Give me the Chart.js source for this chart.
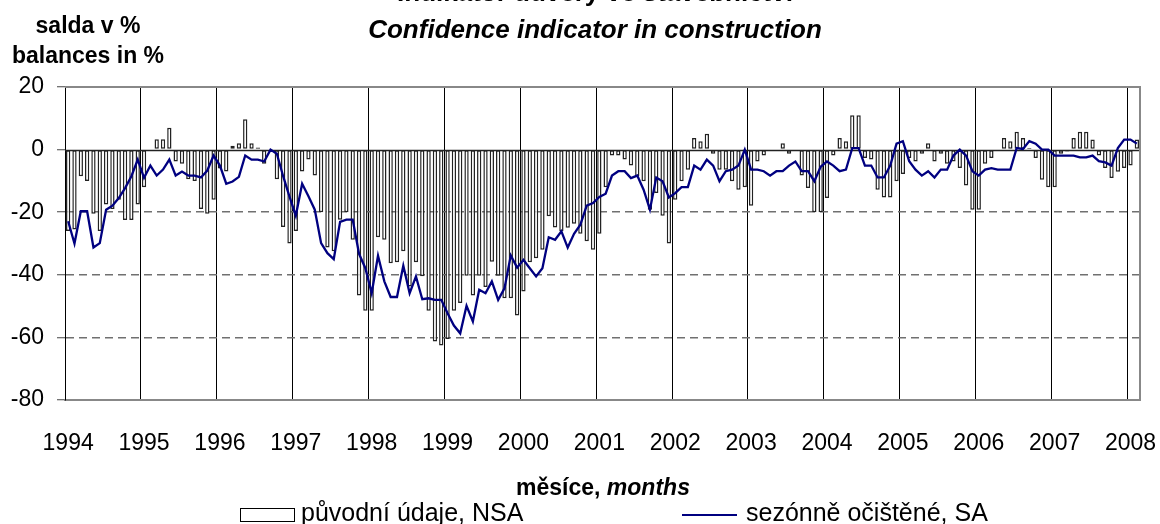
<!DOCTYPE html>
<html>
<head>
<meta charset="utf-8">
<script src="https://cdn.jsdelivr.net/npm/chart.js@4"></script>
<style>
  body { margin: 0; background: #fff; }
  #wrap { width: 1160px; height: 524px; position: relative; }
</style>
</head>
<body>
<div id="wrap"><canvas id="chart"></canvas></div>
<script>
const FONT = '"Liberation Sans", Arial, sans-serif';

// data, monthly 1994/01 - 2008/02
const yearLabels = ['1994', '1995', '1996', '1997', '1998', '1999', '2000', '2001',
  '2002', '2003', '2004', '2005', '2006', '2007', '2008'];
const monthCount = 170;
const yTicks = [20, 0, -20, -40, -60, -80];

// původní údaje, NSA
const nsa = [
  -26, -25.5, -8.5, -10, -20.5, -26, -17.5, -19, -16, -22.5, -22.5, -17.5,
  -12, 0, 3.3, 3.3, 7, -3.8, -4.5, -9.5, -10, -19, -20.5, -16,
  -6, -7, 1.2, 2, 9.7, 2, 0.7, -4.5, -0.3, -9.5, -24.7, -30,
  -26, -7, -3.2, -8.3, -20, -31.3, -32.5, -22.4, -20, -28.8, -46.6, -51.5,
  -51.5, -28, -28.8, -36.3, -36, -32.5, -43.7, -36, -40.5, -51.5, -61.3, -62.6,
  -60.5, -51.5, -49, -40.3, -46.6, -40.3, -43.9, -35.8, -40.3, -47.5, -47.5, -53,
  -45.3, -36, -34.7, -32, -21.3, -24.9, -26.1, -25, -23.7, -26.9, -29.3, -32,
  -26.9, -12, -1.9, -1.9, -3.2, -5.1, -8.5, -10.1, -19.2, -13.9, -21.1, -30,
  -16, -10.1, -6.4, 3.7, 2.7, 5.1, -1.3, -6.4, -6.4, -10.1, -12.8, -12,
  -17.9, -3.8, -1.9, 0, 0, 2, -1.3, 0, -8.3, -12.3, -20, -20,
  -15.5, -1.9, 3.7, 2.7, 11, 11, -2.7, -3.2, -12.8, -15.3, -15.3, -10.1,
  -7.8, -2.7, -3.8, -1.3, 2, -3.8, -1.3, -4.5, -3.8, -5.9, -11.5, -19.2,
  -19.2, -4.5, -2.7, 0, 3.7, 2.7, 5.7, 3.7, 0.5, -2.7, -9.6, -12,
  -12, -1.3, -0.6, 3.7, 5.7, 5.7, 3.2, -1.9, -5.9, -9.1, -7.1, -5.9,
  -5.1, 3.2
];

// sezónně očištěné, SA
const sa = [
  -22.9, -30, -19.7, -19.7, -31.3, -29.9, -19.2, -17.9, -15.5, -12.3, -8.5, -3.2,
  -9, -5.1, -8.3, -6.4, -3.2, -8.3, -7, -8.3, -8.3, -8.9, -6.7, -1.9,
  -5.1, -10.9, -10.2, -8.7, -1.9, -3.2, -3.2, -3.8, 0, -1.3, -8.5, -15,
  -21.1, -10.9, -14.9, -19.2, -29.9, -33.1, -35, -23.1, -22.4, -22.4, -33.3, -37.9,
  -45.9, -33.9, -42.1, -47.1, -47.1, -37.1, -45.9, -40.5, -47.8, -47.5, -48, -48,
  -52.3, -56.2, -58.7, -49.9, -54.9, -44.8, -45.9, -42.1, -48, -44.3, -33.8, -37.7,
  -35.2, -37.9, -40.5, -37.9, -28, -28.8, -26.1, -31.3, -26.9, -24, -17.9, -17.1,
  -15.1, -14.1, -8.3, -6.9, -6.9, -9.1, -8.3, -12.8, -19.2, -8.9, -10.1, -15.3,
  -13.9, -12, -12, -5.1, -6.4, -3.2, -5.1, -10.1, -6.9, -6.4, -5.1, 0,
  -6.4, -6.4, -6.9, -8.3, -6.9, -6.9, -5.1, -3.8, -6.9, -6.9, -10.1, -5.5,
  -3.8, -5.1, -6.9, -6.4, 0.5, 0.5, -5.1, -5.1, -8.9, -8.9, -5.1, 1.9,
  2.7, -3.7, -6.4, -8.3, -6.9, -8.9, -6.4, -6.4, -1.9, 0, -1.9, -6.9,
  -8.3, -6.4, -5.9, -6.4, -6.4, -6.4, 0.5, 0.2, 2.7, 1.9, 0, 0,
  -1.9, -1.9, -1.9, -1.9, -2.5, -2.5, -1.9, -3.7, -4.1, -5.1, 0.5, 3.2,
  3.2, 1.9
];

const titleLines = ['Indikátor důvěry ve stavebnictví', 'Confidence indicator in construction'];
const yTitle = ['salda v %', 'balances in %'];
const xTitle = ['měsíce, ', 'months'];
const seriesNames = ['původní údaje, NSA', 'sezónně očištěné, SA'];

const categories = [];
for (let i = 0; i < monthCount; i++) {
  categories.push(yearLabels[Math.floor(i / 12)] + '-' + String(i % 12 + 1).padStart(2, '0'));
}

const decor = {
  id: 'decor',
  afterDatasetDraw(chart, args) {
    if (args.index !== 0) return;
    const { ctx, chartArea: a, scales: { y } } = chart;
    const y0 = Math.round(y.getPixelForValue(0)) + 0.5;
    ctx.save();
    ctx.strokeStyle = '#222';
    ctx.lineWidth = 1.5;
    ctx.beginPath();
    ctx.moveTo(a.left, y0);
    ctx.lineTo(a.right, y0);
    ctx.stroke();
    ctx.restore();
  },
  afterDraw(chart) {
    const { ctx, chartArea: a } = chart;
    ctx.save();
    // frame top / right
    ctx.strokeStyle = '#888';
    ctx.lineWidth = 2;
    ctx.beginPath();
    ctx.moveTo(a.left, a.top);
    ctx.lineTo(a.right, a.top);
    ctx.lineTo(a.right, a.bottom);
    ctx.stroke();

    ctx.fillStyle = '#000';
    ctx.textAlign = 'center';
    ctx.textBaseline = 'alphabetic';
    ctx.font = 'bold 26px ' + FONT;
    ctx.fillText(titleLines[0], 595, 1);
    ctx.font = 'italic bold 26px ' + FONT;
    ctx.fillText(titleLines[1], 595, 38);

    ctx.font = 'bold 23px ' + FONT;
    ctx.fillText(yTitle[0], 88, 33);
    ctx.fillText(yTitle[1], 88, 63);

    // x title, mixed style
    ctx.textAlign = 'left';
    ctx.font = 'bold 23px ' + FONT;
    const w1 = ctx.measureText(xTitle[0]).width;
    ctx.font = 'italic bold 23px ' + FONT;
    const w2 = ctx.measureText(xTitle[1]).width;
    const x0 = 603 - (w1 + w2) / 2;
    ctx.font = 'bold 23px ' + FONT;
    ctx.fillText(xTitle[0], x0, 495);
    ctx.font = 'italic bold 23px ' + FONT;
    ctx.fillText(xTitle[1], x0 + w1, 495);

    // legend
    ctx.font = '25px ' + FONT;
    ctx.strokeStyle = '#000';
    ctx.lineWidth = 1;
    ctx.fillStyle = '#fff';
    ctx.fillRect(240.5, 508.5, 54, 13);
    ctx.strokeRect(240.5, 508.5, 54, 13);
    ctx.fillStyle = '#000';
    ctx.fillText(seriesNames[0], 301, 521);
    ctx.strokeStyle = '#000080';
    ctx.lineWidth = 2;
    ctx.beginPath();
    ctx.moveTo(682, 515);
    ctx.lineTo(737, 515);
    ctx.stroke();
    ctx.fillText(seriesNames[1], 746, 521);
    ctx.restore();
  }
};

new Chart(document.getElementById('chart'), {
  type: 'bar',
  data: {
    labels: categories,
    datasets: [
      {
        label: seriesNames[0],
        data: nsa,
        backgroundColor: '#fff',
        borderColor: '#222',
        borderWidth: 1.5,
        borderSkipped: false,
        barPercentage: 0.68,
        categoryPercentage: 1,
        order: 2,
      },
      {
        type: 'line',
        label: seriesNames[1],
        data: sa,
        borderColor: '#000080',
        borderWidth: 2.3,
        pointRadius: 0,
        tension: 0,
        order: 1,
      },
    ],
  },
  options: {
    responsive: true,
    maintainAspectRatio: false,
    animation: false,
    devicePixelRatio: 1,
    layout: { padding: { top: 87, right: 20, bottom: 64, left: 0 } },
    plugins: {
      legend: { display: false },
      tooltip: { enabled: false },
    },
    scales: {
      x: {
        offset: true,
        grid: {
          offset: true,
          drawTicks: false,
          lineWidth: 1,
          color: (c) => (c.index % 12 === 0 ? '#000' : 'rgba(0,0,0,0)'),
        },
        border: { display: true, color: '#888', width: 2 },
        ticks: {
          autoSkip: false,
          maxRotation: 0,
          minRotation: 0,
          padding: 30,
          color: '#000',
          font: { family: FONT, size: 23 },
          callback: (v, i) => (i % 12 === 0 ? yearLabels[i / 12] : ''),
        },
        afterFit: (s) => {
          s.height = 60;
          s.paddingLeft = 0;
          s.paddingRight = 0;
        },
      },
      y: {
        min: yTicks[yTicks.length - 1],
        max: yTicks[0],
        ticks: {
          stepSize: 20,
          padding: 13,
          color: '#000',
          font: { family: FONT, size: 23 },
        },
        grid: {
          lineWidth: 1.5,
          color: (c) => (c.tick && c.tick.value < 0 && c.tick.value > -80 ? '#707070' : 'rgba(0,0,0,0)'),
          tickLength: 8,
          tickColor: '#444',
          tickWidth: 1,
          tickBorderDash: [],
        },
        border: { display: true, color: '#000', width: 1, dash: [8, 5] },
        afterFit: (s) => {
          s.width = 65;
          s.paddingTop = 0;
          s.paddingBottom = 0;
        },
      },
    },
  },
  plugins: [decor],
});
</script>
</body>
</html>
